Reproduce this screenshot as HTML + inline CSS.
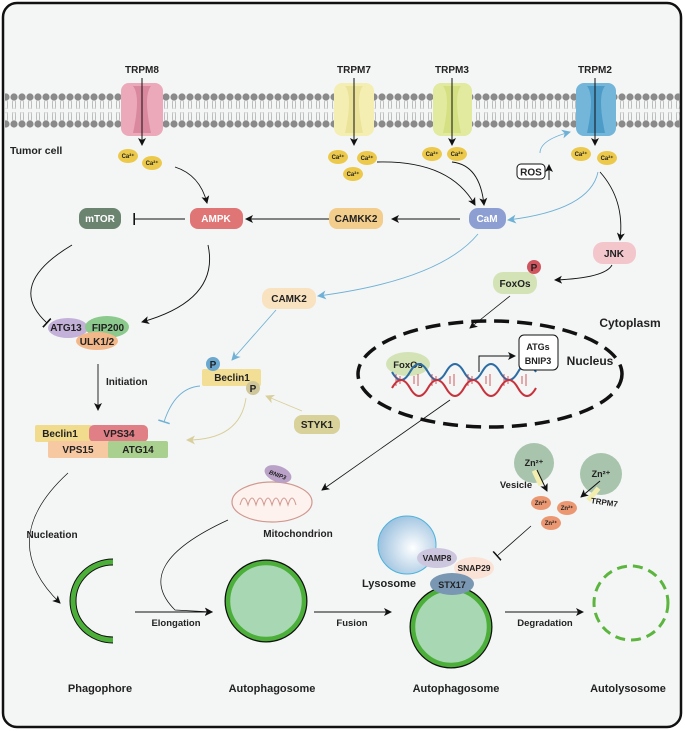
<!DOCTYPE html>
<html><head><meta charset="utf-8"><style>
html,body{margin:0;padding:0;background:#fff}
svg{display:block}
text{font-family:"Liberation Sans",sans-serif;font-weight:bold;fill:#222}
</style></head><body>
<svg width="685" height="731" viewBox="0 0 685 731" xmlns="http://www.w3.org/2000/svg">
<defs>
<pattern id="mem" x="2" y="0" width="8" height="731" patternUnits="userSpaceOnUse">
<circle cx="4" cy="97" r="3.6" fill="#8a8a8a"/>
<circle cx="4" cy="124" r="3.6" fill="#8a8a8a"/>
<path d="M3 100 q-1 5 0 9 M5 100 q1 5 0 9 M3 112 q-1 5 0 9 M5 112 q1 5 0 9" stroke="#999" stroke-width="0.6" fill="none"/>
</pattern>
<marker id="ab" markerWidth="8" markerHeight="8" refX="7" refY="4" orient="auto" markerUnits="userSpaceOnUse"><path d="M0,0 L8,4 L0,8 L2,4z" fill="#111"/></marker>
<marker id="abl" markerWidth="9" markerHeight="9" refX="8" refY="4.5" orient="auto" markerUnits="userSpaceOnUse"><path d="M0,0 L9,4.5 L0,9 L2.5,4.5z" fill="#6fb1d6"/></marker>
<marker id="at" markerWidth="9" markerHeight="9" refX="8" refY="4.5" orient="auto" markerUnits="userSpaceOnUse"><path d="M0,0 L9,4.5 L0,9 L2.5,4.5z" fill="#d8cf9c"/></marker>
<marker id="tb" markerWidth="2" markerHeight="12" refX="1" refY="6" orient="auto" markerUnits="userSpaceOnUse"><rect x="0" y="0" width="1.6" height="12" fill="#111"/></marker>
<marker id="tbl" markerWidth="2" markerHeight="12" refX="1" refY="6" orient="auto" markerUnits="userSpaceOnUse"><rect x="0" y="0" width="1.6" height="12" fill="#6fb1d6"/></marker>
<radialGradient id="lys" cx="0.6" cy="0.55" r="0.6"><stop offset="0" stop-color="#fff"/><stop offset="1" stop-color="#9cc1df"/></radialGradient>
</defs>
<rect x="3" y="3" width="678" height="724" rx="14" fill="#f4f6f5" stroke="#111" stroke-width="2.5"/>
<rect x="5" y="90" width="675" height="40" fill="url(#mem)"/>
<!-- channels -->
<g>
<rect x="121" y="83" width="42" height="53" rx="8" fill="#eba9ba"/><path d="M133 86 q8 10 0 47 h18 q-8 -37 0 -47z" fill="#d9889e"/>
<rect x="334" y="83" width="40" height="53" rx="8" fill="#f4eeb2"/><path d="M345 86 q8 10 0 47 h18 q-8 -37 0 -47z" fill="#ebe39a"/>
<rect x="433" y="83" width="39" height="53" rx="8" fill="#e1ea9e"/><path d="M443 86 q8 10 0 47 h18 q-8 -37 0 -47z" fill="#d5e082"/>
<rect x="576" y="83" width="40" height="53" rx="8" fill="#74b5da"/><path d="M587 86 q8 10 0 47 h18 q-8 -37 0 -47z" fill="#4d9cc8"/>
</g>
<g font-size="10" text-anchor="middle">
<text x="142" y="73">TRPM8</text><text x="354" y="73">TRPM7</text><text x="452" y="73">TRPM3</text><text x="595" y="73">TRPM2</text>
</g>
<g stroke="#111" stroke-width="1" marker-end="url(#ab)">
<line x1="142" y1="78" x2="142" y2="145"/><line x1="354" y1="78" x2="354" y2="145"/><line x1="452" y1="78" x2="452" y2="145"/><line x1="595" y1="78" x2="595" y2="145"/>
</g>
<text x="10" y="154" font-size="10.5">Tumor cell</text>
<g fill="#ecc94b">
<ellipse cx="128" cy="156" rx="10" ry="7"/><ellipse cx="152" cy="163" rx="10" ry="7"/>
<ellipse cx="338" cy="157" rx="10" ry="7"/><ellipse cx="367" cy="158" rx="10" ry="7"/><ellipse cx="353" cy="174" rx="10" ry="7"/>
<ellipse cx="432" cy="154" rx="10" ry="7"/><ellipse cx="457" cy="154" rx="10" ry="7"/>
<ellipse cx="581" cy="154" rx="10" ry="7"/><ellipse cx="607" cy="158" rx="10" ry="7"/>
</g>
<g font-size="6" text-anchor="middle">
<text x="128" y="158">Ca²⁺</text><text x="152" y="165">Ca²⁺</text><text x="338" y="159">Ca²⁺</text><text x="367" y="160">Ca²⁺</text><text x="353" y="176">Ca²⁺</text><text x="432" y="156">Ca²⁺</text><text x="457" y="156">Ca²⁺</text><text x="581" y="156">Ca²⁺</text><text x="607" y="160">Ca²⁺</text>
</g>
<rect x="517" y="164" width="28" height="15" rx="4" fill="#fff" stroke="#111" stroke-width="1"/>
<text x="531" y="175.5" font-size="10" text-anchor="middle">ROS</text>
<line x1="549" y1="180" x2="549" y2="165" stroke="#111" marker-end="url(#ab)"/>
<!-- connectors -->
<g fill="none" stroke="#111" stroke-width="0.9">
<path d="M175 167 Q200 175 207 203" marker-end="url(#ab)"/>
<path d="M377 162 Q450 160 475 205" marker-end="url(#ab)"/>
<path d="M452 162 Q480 165 484 205" marker-end="url(#ab)"/>
<path d="M600 172 Q625 200 620 240" marker-end="url(#ab)"/>
<path d="M612 265 Q605 278 555 280" marker-end="url(#ab)"/>
<path d="M510 296 L470 328" stroke-width="0.8" marker-end="url(#ab)"/>
<path d="M330 219 L246 219" marker-end="url(#ab)"/>
<path d="M460 219 L392 219" marker-end="url(#ab)"/>
<path d="M185 219 L134 219" marker-end="url(#tb)"/>
<path d="M72 245 Q5 285 47 323" marker-end="url(#tb)"/>
<path d="M208 245 Q220 300 142 322" marker-end="url(#ab)"/>
<path d="M98 364 L98 410" marker-end="url(#ab)"/>
<path d="M450 400 L322 490" stroke-width="0.8" marker-end="url(#ab)"/>
<path d="M68 473 Q-5 540 60 603" stroke-width="0.7" marker-end="url(#ab)"/>
<path d="M228 520 Q130 565 175 610 L212 612" stroke-width="0.7" marker-end="url(#ab)"/>
<path d="M135 612 L212 612" stroke-width="0.9" marker-end="url(#ab)"/>
<path d="M314 612 L391 612" marker-end="url(#ab)"/>
<path d="M505 612 L583 612" marker-end="url(#ab)"/>
<path d="M531 526 L497 556" stroke-width="0.8" marker-end="url(#tb)"/>
</g>
<g fill="none" stroke="#6fb1d6" stroke-width="0.9">
<path d="M540 153 Q540 140 570 132" marker-end="url(#abl)"/>
<path d="M598 172 Q590 210 508 220" marker-end="url(#abl)"/>
<path d="M478 234 Q440 280 318 296" marker-end="url(#abl)"/>
<path d="M276 310 L232 360" marker-end="url(#abl)"/>
<path d="M200 386 Q175 388 164 422" marker-end="url(#tbl)"/>
</g>
<g fill="none" stroke="#d8cf9c" stroke-width="0.9">
<path d="M246 398 Q240 440 187 440" marker-end="url(#at)"/>
<path d="M302 411 L266 396" marker-end="url(#at)"/>
</g>
<!-- boxes -->
<g font-size="10" text-anchor="middle">
<rect x="79" y="208" width="42" height="21" rx="8" fill="#6b8470"/><text x="100" y="222" style="fill:#fff">mTOR</text>
<rect x="190" y="208" width="53" height="21" rx="8" fill="#e07575"/><text x="216" y="222" style="fill:#fff">AMPK</text>
<rect x="329" y="208" width="54" height="21" rx="8" fill="#f3cd8c"/><text x="356" y="222">CAMKK2</text>
<rect x="469" y="208" width="37" height="21" rx="9" fill="#8d9fd2"/><text x="487" y="222" style="fill:#fff">CaM</text>
<rect x="593" y="242" width="43" height="22" rx="10" fill="#f3c6cc"/><text x="614" y="257">JNK</text>
<rect x="493" y="272" width="44" height="22" rx="10" fill="#d3e3b6"/><text x="515" y="287">FoxOs</text>
<circle cx="534" cy="267" r="7" fill="#d0555e"/><text x="534" y="271">P</text>
<rect x="262" y="288" width="54" height="21" rx="9" fill="#f8e2c0"/><text x="289" y="302">CAMK2</text>
<ellipse cx="68" cy="328" rx="20" ry="10" fill="#c3b1d9"/><text x="66" y="331">ATG13</text>
<ellipse cx="107" cy="327" rx="22" ry="11" fill="#8bc98c"/><text x="108" y="331">FIP200</text>
<ellipse cx="97" cy="341" rx="21" ry="9" fill="#f3b88a"/><text x="97" y="345">ULK1/2</text>
<rect x="35" y="425" width="57" height="17" rx="2" fill="#f0dc8c"/><text x="60" y="437">Beclin1</text>
<rect x="89" y="425" width="59" height="17" rx="5" fill="#e07f86"/><text x="119" y="437">VPS34</text>
<rect x="48" y="441" width="62" height="17" rx="2" fill="#f7c9a2"/><text x="78" y="453">VPS15</text>
<rect x="108" y="441" width="60" height="17" rx="2" fill="#a9d08e"/><text x="138" y="453">ATG14</text>
<rect x="202" y="369" width="59" height="17" rx="2" fill="#f2df95"/><text x="232" y="381">Beclin1</text>
<circle cx="213" cy="364" r="7" fill="#6aa8cf"/><text x="213" y="368">P</text>
<circle cx="253" cy="388" r="7" fill="#cfc79a"/><text x="253" y="392">P</text>
<rect x="294" y="415" width="46" height="19" rx="8" fill="#d8d19a"/><text x="317" y="428">STYK1</text>
<text x="106" y="385" text-anchor="start">Initiation</text>
</g>
<!-- nucleus -->
<ellipse cx="490" cy="374" rx="132" ry="53" fill="none" stroke="#111" stroke-width="3.5" stroke-dasharray="15 8"/>
<text x="630" y="327" font-size="12" text-anchor="middle">Cytoplasm</text>
<text x="590" y="365" font-size="12" text-anchor="middle">Nucleus</text>
<ellipse cx="408" cy="364" rx="22" ry="12" fill="#d3e3b6"/><text x="408" y="368" font-size="9.5" text-anchor="middle">FoxOs</text>
<g fill="none" stroke-width="2">
<path d="M392 372 q9 16 18 0 t18 0 t18 0 t18 0 t18 0 t18 0 t18 0 t18 0" stroke="#2c6da6"/>
<path d="M392 388 q9 -16 18 0 t18 0 t18 0 t18 0 t18 0 t18 0 t18 0 t18 0" stroke="#c8323c"/>
</g>
<g stroke="#c8323c" stroke-width="0.8"><path d="M396 374v12M400 376v8M414 376v8M418 374v12M432 374v12M436 376v8M450 376v8M454 374v12M468 374v12M472 376v8M486 376v8M490 374v12M504 374v12M508 376v8M522 376v8M526 374v12"/></g>
<path d="M479 372 V356 H515" fill="none" stroke="#111" marker-end="url(#ab)"/>
<rect x="519" y="335" width="39" height="35" rx="5" fill="#fff" stroke="#111"/>
<text x="538" y="350" font-size="9" text-anchor="middle">ATGs</text><text x="538" y="364" font-size="9" text-anchor="middle">BNIP3</text>
<!-- mitochondrion -->
<ellipse cx="272" cy="502" rx="40" ry="20" fill="#fdf2ee" stroke="#d09890" stroke-width="1.2"/>
<path d="M240 505 q4 -14 8 0 q4 -14 8 0 q4 -14 8 0 q4 -14 8 0 q4 -14 8 0 q4 -14 8 0 q4 -14 8 0" fill="none" stroke="#d09890" stroke-width="1"/>
<ellipse cx="278" cy="474" rx="14" ry="8" fill="#b9a1c7" transform="rotate(20 278 474)"/>
<text x="278" y="477" font-size="6" text-anchor="middle" transform="rotate(20 278 474)" style="font-style:italic">BNIP3</text>
<text x="298" y="537" font-size="10" text-anchor="middle">Mitochondrion</text>
<text x="52" y="538" font-size="10" text-anchor="middle">Nucleation</text>
<!-- vesicles -->
<circle cx="534" cy="463" r="20" fill="#a8c4ac"/>
<circle cx="601" cy="474" r="21" fill="#a8c4ac"/>
<rect x="535" y="470" width="5" height="16" fill="#f3eeb0" transform="rotate(-25 537 478)"/>
<rect x="591" y="486" width="5" height="16" fill="#f3eeb0" transform="rotate(40 593 494)"/>
<text x="534" y="466" font-size="9" text-anchor="middle">Zn²⁺</text><text x="601" y="477" font-size="9" text-anchor="middle">Zn²⁺</text>
<line x1="537" y1="470" x2="547" y2="491" stroke="#111" marker-end="url(#ab)"/>
<line x1="600" y1="481" x2="581" y2="497" stroke="#111" marker-end="url(#ab)"/>
<text x="516" y="488" font-size="9.5" text-anchor="middle">Vesicle</text>
<text x="604" y="505" font-size="8" text-anchor="middle" transform="rotate(8 604 505)">TRPM7</text>
<g fill="#eb9872"><ellipse cx="541" cy="503" rx="10" ry="7"/><ellipse cx="567" cy="508" rx="10" ry="7"/><ellipse cx="551" cy="523" rx="10" ry="7"/></g>
<g font-size="6" text-anchor="middle"><text x="541" y="505">Zn²⁺</text><text x="567" y="510">Zn²⁺</text><text x="551" y="525">Zn²⁺</text></g>
<!-- autophagy stages -->
<path d="M113 562 A40 39 0 0 0 113 640" fill="none" stroke="#111" stroke-width="7"/>
<path d="M113 562 A40 39 0 0 0 113 640" fill="none" stroke="#4caf3a" stroke-width="5"/>
<ellipse cx="266" cy="601" rx="38" ry="38" fill="#a8d8b3" stroke="#111" stroke-width="7"/>
<ellipse cx="266" cy="601" rx="38" ry="38" fill="#a8d8b3" stroke="#4caf3a" stroke-width="4.5"/>
<ellipse cx="451" cy="627" rx="38" ry="38" fill="#a8d8b3" stroke="#111" stroke-width="7"/>
<ellipse cx="451" cy="627" rx="38" ry="38" fill="#a8d8b3" stroke="#4caf3a" stroke-width="4.5"/>
<circle cx="407" cy="545" r="29" fill="url(#lys)" stroke="#4bb3dd" stroke-width="1"/>
<ellipse cx="437" cy="558" rx="20" ry="10" fill="#cdc6df"/><text x="437" y="561" font-size="8.5" text-anchor="middle">VAMP8</text>
<ellipse cx="474" cy="568" rx="20" ry="11" fill="#fbe2d6"/><text x="474" y="571" font-size="8.5" text-anchor="middle">SNAP29</text>
<ellipse cx="452" cy="584" rx="22" ry="11" fill="#7997b3"/><text x="452" y="588" font-size="9" text-anchor="middle">STX17</text>
<text x="389" y="587" font-size="11" text-anchor="middle">Lysosome</text>
<circle cx="631" cy="603" r="37" fill="none" stroke="#5cb53e" stroke-width="3" stroke-dasharray="10 6"/>
<g font-size="9.5" text-anchor="middle">
<text x="176" y="626">Elongation</text><text x="352" y="626">Fusion</text><text x="545" y="626">Degradation</text>
</g>
<g font-size="11" text-anchor="middle">
<text x="100" y="692">Phagophore</text><text x="272" y="692">Autophagosome</text><text x="456" y="692">Autophagosome</text><text x="628" y="692">Autolysosome</text>
</g>
</svg>
</body></html>
